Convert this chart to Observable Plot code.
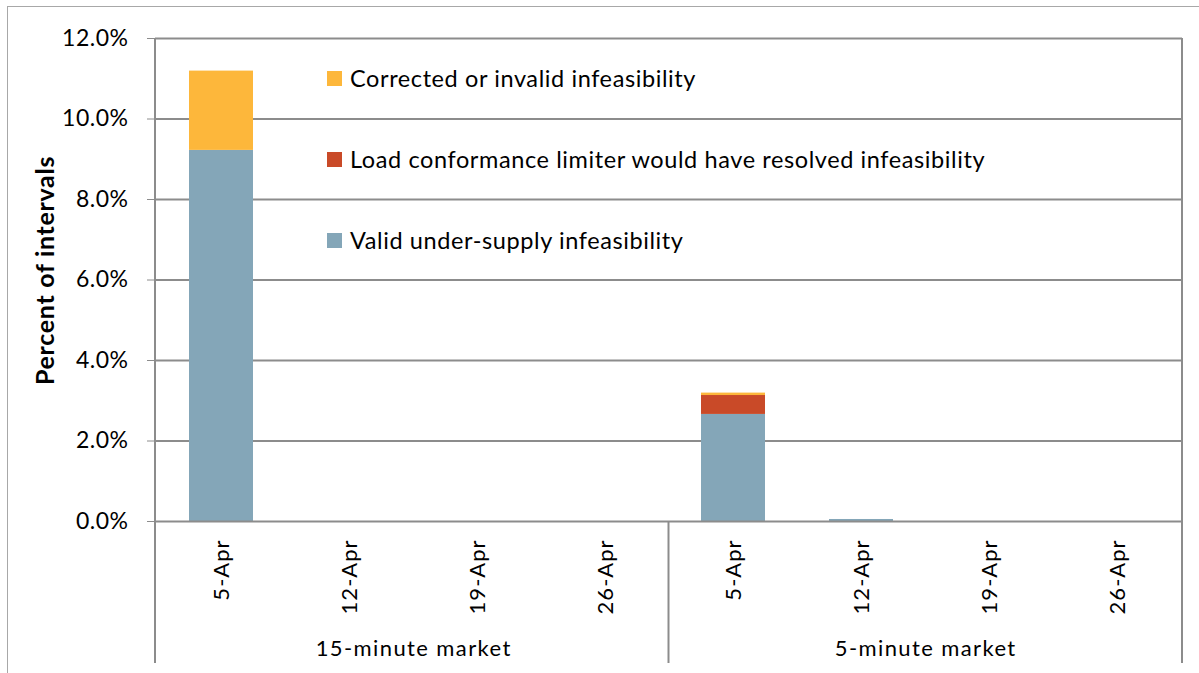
<!DOCTYPE html>
<html><head><meta charset="utf-8">
<script src="https://cdn.jsdelivr.net/npm/d3@7"></script>
<script src="https://cdn.jsdelivr.net/npm/@observablehq/plot@0.6"></script>
<style>
html,body{margin:0;padding:0;background:#fff;}
#wrap{position:relative;width:1199px;height:673px;overflow:hidden;font-family:Lato,"Open Sans",sans-serif;}
#border{position:absolute;left:7px;top:6px;right:-10px;bottom:-10px;border-top:1.5px solid #a8a8a8;border-left:1.5px solid #a8a8a8;}
#legend{position:absolute;left:327px;top:0;font-size:23.5px;letter-spacing:0.6px;color:#000;}
.li{position:absolute;white-space:nowrap;display:flex;align-items:center;transform:translateY(-50%);}
.sw{width:15px;height:15px;margin-right:8px;flex:none;}
</style></head>
<body><div id="wrap"><div id="border"></div><div id="chart"></div><div id="legend"></div></div>
<script>
const markets = ["15-minute market", "5-minute market"];
const weeks = ["5-Apr", "12-Apr", "19-Apr", "26-Apr"];
const seriesNames = ["Valid under-supply infeasibility", "Load conformance limiter would have resolved infeasibility", "Corrected or invalid infeasibility"];
const seriesColors = ["#84a6b8", "#c94a28", "#fdb73b"];
// values in percent, order: 15-min (4 weeks), 5-min (4 weeks)
const validValues =     [9.22, 0, 0, 0, 2.66, 0.05, 0, 0];
const loadConfValues =  [0,    0, 0, 0, 0.47, 0,    0, 0];
const correctedValues = [1.97, 0, 0, 0, 0.06, 0,    0, 0];
const yTicks = [0, 0.02, 0.04, 0.06, 0.08, 0.10, 0.12];
const yTitle = "Percent of intervals";

const keys = [];
markets.forEach(m => weeks.forEach(w => keys.push(m + "|" + w)));
const seriesValues = [validValues, loadConfValues, correctedValues];
const rows = [];
seriesNames.forEach((s, si) => keys.forEach((k, i) => rows.push({key: k, series: s, value: seriesValues[si][i] / 100})));

const W = 1199, H = 673, mL = 155, mR = 17, mT = 38, mB = 152;
const step = (W - mL - mR) / keys.length;
const gray = "#8c8c8c";

const frameLines = (index, scales, values, dims) => {
  const L = dims.marginLeft, R = dims.width - dims.marginRight, T = dims.marginTop,
        B = dims.height - dims.marginBottom, E = dims.height - 10, M = (L + R) / 2;
  const g = d3.create("svg:g").attr("stroke", gray).attr("stroke-width", 2);
  [[L, T, L, E], [R, T, R, E], [M, B, M, E]].forEach(([x1, y1, x2, y2]) =>
    g.append("line").attr("x1", x1).attr("y1", y1).attr("x2", x2).attr("y2", y2));
  return g.node();
};

const chart = Plot.plot({
  width: W, height: H,
  marginLeft: mL, marginRight: mR, marginTop: mT, marginBottom: mB,
  style: {fontFamily: "Lato, 'Open Sans', sans-serif", background: "transparent", color: "#000"},
  x: {domain: keys, paddingInner: 0.5, paddingOuter: 0.25, axis: null},
  y: {domain: [0, 0.12], axis: null},
  color: {domain: seriesNames, range: seriesColors},
  marks: [
    Plot.gridY(yTicks.slice(1), {stroke: gray, strokeOpacity: 1, strokeWidth: 2}),
    Plot.barY(rows, {x: "key", y: "value", fill: "series", order: seriesNames}),
    Plot.ruleY([0], {stroke: gray, strokeWidth: 2}),
    Plot.axisY(yTicks, {tickFormat: ".1%", tickSize: 8, tickPadding: 19, fontSize: 23, stroke: gray, fill: "#000", label: null}),
    Plot.axisX(keys, {tickFormat: k => k.split("|")[1], tickSize: 0, tickPadding: 18, tickRotate: -90, fontSize: 22, fill: "#000", label: null}),
    Plot.text(markets, {x: (d, i) => keys[i * weeks.length + 1], dx: step / 2, frameAnchor: "bottom", dy: 134, fontSize: 22, fill: "#000"}),
    Plot.text([yTitle], {frameAnchor: "left", textAnchor: "middle", rotate: -90, dx: -110, dy: -9.5, fontSize: 25, fontWeight: "bold", fill: "#000"}),
    frameLines
  ]
});
document.getElementById("chart").appendChild(chart);

// letter spacing to mimic the original's wide text rendering
d3.select(chart).selectAll("text").each(function() {
  const t = this.textContent;
  let ls = null;
  if (t.endsWith("%")) ls = "0.5px";
  else if (weeks.includes(t)) ls = "1px";
  else if (markets.includes(t)) ls = "1.4px";
  else if (t === yTitle) ls = "0.7px";
  if (ls) this.setAttribute("letter-spacing", ls);
});

const legend = document.getElementById("legend");
const legendRows = [2, 1, 0];
const legendY = [78, 159, 240];
legendRows.forEach((si, j) => {
  const d = document.createElement("div");
  d.className = "li";
  d.style.top = legendY[j] + "px";
  d.innerHTML = `<span class="sw" style="background:${seriesColors[si]}"></span><span>${seriesNames[si]}</span>`;
  legend.appendChild(d);
});
</script></body></html>
